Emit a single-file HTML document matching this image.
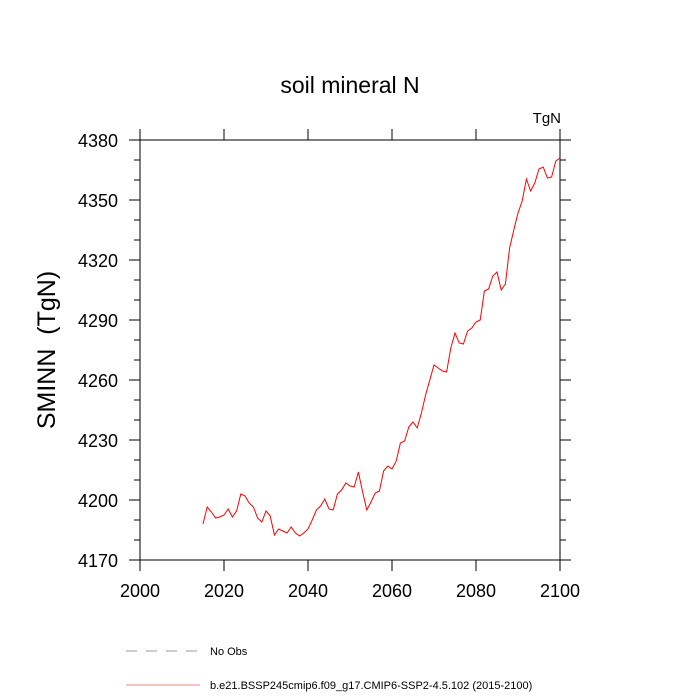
<!DOCTYPE html>
<html><head><meta charset="utf-8"><style>
html,body{margin:0;padding:0;background:#fff;}
svg{display:block;font-family:"Liberation Sans",sans-serif;}
</style></head><body>
<svg id="chart" width="700" height="700">
<text x="350" y="93" text-anchor="middle" font-size="23">soil mineral N</text>
<text x="561" y="123" text-anchor="end" font-size="15">TgN</text>
<text transform="translate(55,350) rotate(-90)" text-anchor="middle" font-size="25" xml:space="preserve">SMINN  (TgN)</text>
<g id="axes"></g>
<g id="series"></g>
<g>
<line x1="126" y1="651" x2="200" y2="651" stroke="#9a9ab0" stroke-width="1" stroke-dasharray="11,9"/>
<text x="210" y="655" font-size="11">No Obs</text>
<line x1="126" y1="685" x2="200" y2="685" stroke="#f08080" stroke-width="1"/>
<text x="210" y="689" font-size="11">b.e21.BSSP245cmip6.f09_g17.CMIP6-SSP2-4.5.102 (2015-2100)</text>
</g>
</svg>
<script>
const years = [];
for (let y = 2015; y <= 2100; y++) years.push(y);
const sminn = [4188,4196.5,4194,4191,4191.5,4192.5,4195.5,4191.5,4194.5,4203,4202,4198.5,4196.5,4191,4189,4194.5,4192,4182.5,4185.5,4184.5,4183.5,4186.5,4183.5,4182,4183.5,4185.5,4190,4195,4197,4200.5,4195.5,4195,4203,4205,4208.5,4207,4206.5,4214,4204,4195,4199,4203.5,4204.5,4214.5,4217,4215.5,4219.5,4228.5,4229.5,4236.5,4239,4236,4243.5,4252.5,4260,4267.5,4266,4264.5,4264,4276,4283.5,4278.5,4278,4284.5,4286,4289,4290,4304.5,4305.5,4312,4314,4305,4308,4326,4335,4343.5,4349.5,4360.5,4354.5,4358.5,4365.5,4366.5,4361,4361.5,4369.5,4371];
const xTicks = [2000,2020,2040,2060,2080,2100];
const yTicks = [4170,4200,4230,4260,4290,4320,4350,4380];
const yMinor = [];
for (let v = 4170; v <= 4380; v += 10) yMinor.push(v);

const L=140,R=560,T=140,B=560;
const xs = v => L + (v-2000)/100*(R-L);
const ys = v => B - (v-4170)/210*(B-T);
const NS='http://www.w3.org/2000/svg';
function mk(tag, attrs, parent){const e=document.createElementNS(NS,tag);for(const k in attrs)e.setAttribute(k,attrs[k]);parent.appendChild(e);return e;}
const ax=document.getElementById('axes');
const frame=mk('rect',{x:L,y:T,width:R-L,height:B-T,fill:'none',stroke:'#000','stroke-width':1},ax);


xTicks.forEach(t=>{
  const x=xs(t);
  const a=mk('line',{x1:x,y1:B,x2:x,y2:B+11,stroke:'#000'},ax);
  
  
  const b=mk('line',{x1:x,y1:T,x2:x,y2:T-11,stroke:'#000'},ax);
  
  
  const tx=mk('text',{x:x,y:B+37,'text-anchor':'middle','font-size':18},ax);
  tx.textContent=t;
  
  
});
yMinor.forEach(v=>{
  const y=ys(v);
  const a=mk('line',{x1:L,y1:y,x2:L-6,y2:y,stroke:'#000'},ax);
  
  
  const b=mk('line',{x1:R,y1:y,x2:R+6,y2:y,stroke:'#000'},ax);
  
  
});
yTicks.forEach(v=>{
  const y=ys(v);
  const a=mk('line',{x1:L,y1:y,x2:L-11,y2:y,stroke:'#000'},ax);
  
  
  const b=mk('line',{x1:R,y1:y,x2:R+11,y2:y,stroke:'#000'},ax);
  
  
  const tx=mk('text',{x:L-22,y:y+7,'text-anchor':'end','font-size':18},ax);
  tx.textContent=v;
  
  
});
const pts=years.map((yr,i)=>xs(yr).toFixed(1)+','+ys(sminn[i]).toFixed(1)).join(' ');
const line=mk('polyline',{points:pts,fill:'none',stroke:'#ff0000','stroke-width':1},document.getElementById('series'));


</script>
</body></html>
